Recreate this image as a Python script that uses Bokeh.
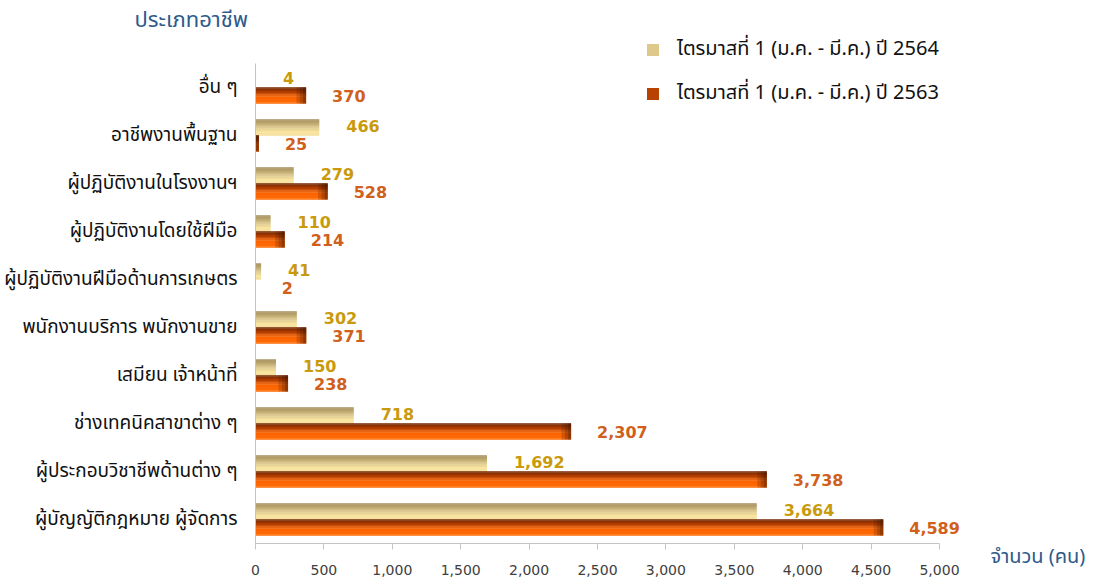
from bokeh.plotting import figure
from bokeh.models import (ColumnDataSource, Range1d, Label, Legend, LegendItem,
                          NumeralTickFormatter, FixedTicker)
from bokeh.transform import dodge
from bokeh.core.properties import value
from bokeh.embed import file_html
from bokeh.resources import INLINE

# ---------------- data ----------------
categories = [
    "อื่น ๆ",
    "อาชีพงานพื้นฐาน",
    "ผู้ปฏิบัติงานในโรงงานฯ",
    "ผู้ปฏิบัติงานโดยใช้ฝีมือ",
    "ผู้ปฏิบัติงานฝีมือด้านการเกษตร",
    "พนักงานบริการ พนักงานขาย",
    "เสมียน เจ้าหน้าที่",
    "ช่างเทคนิคสาขาต่าง ๆ",
    "ผู้ประกอบวิชาชีพด้านต่าง ๆ",
    "ผู้บัญญัติกฎหมาย ผู้จัดการ",
]
q1_2564 = [4, 466, 279, 110, 41, 302, 150, 718, 1692, 3664]
q1_2563 = [370, 25, 528, 214, 2, 371, 238, 2307, 3738, 4589]
series_names = ["ไตรมาสที่ 1 (ม.ค. - มี.ค.) ปี 2564",
                "ไตรมาสที่ 1 (ม.ค. - มี.ค.) ปี 2563"]
x_ticks = [0, 500, 1000, 1500, 2000, 2500, 3000, 3500, 4000, 4500, 5000]
x_max = 5000
title_text = "ประเภทอาชีพ"
x_title = "จำนวน (คน)"

# ---------------- layout (canvas pixels) ----------------
W, H = 1104, 580
PLOT_LEFT, PLOT_RIGHT = 255, 939      # x = 0 .. x_max
PLOT_TOP, PLOT_BOTTOM = 63, 543       # category band
n = len(categories)
px_x = (PLOT_RIGHT - PLOT_LEFT) / x_max
px_y = (PLOT_BOTTOM - PLOT_TOP) / n
x_range = Range1d(-PLOT_LEFT / px_x, x_max + (W - PLOT_RIGHT) / px_x)
y_range = Range1d(-0.5 - (H - PLOT_BOTTOM) / px_y, n - 0.5 + PLOT_TOP / px_y)

# ---------------- styling ----------------
THAI = "Tahoma, 'Noto Sans Thai', 'Noto Sans', sans-serif"
NUM = "'DejaVu Sans', Verdana, sans-serif"
BLUE = "#2e5b8a"
GOLD_TXT = "#c99a0c"
ORANGE_TXT = "#d0601c"


def hex2rgb(h):
    h = h.lstrip("#")
    return [int(h[i:i + 2], 16) for i in (0, 2, 4)]


def grad(stops, t):
    for (t0, c0), (t1, c1) in zip(stops, stops[1:]):
        if t <= t1:
            f = 0 if t1 == t0 else (t - t0) / (t1 - t0)
            a, b = hex2rgb(c0), hex2rgb(c1)
            return "#%02x%02x%02x" % tuple(round(a[i] + (b[i] - a[i]) * f) for i in range(3))
    return stops[-1][1]


gold_stops = [(0.0, "#a08b5a"), (0.35, "#c9b47a"), (0.8, "#fbe7a2"), (1.0, "#f3dc96")]
orange_stops = [(0.0, "#6c2400"), (0.3, "#b33f00"), (0.6, "#fb6300"), (1.0, "#ff6b05")]

ypos = list(range(n))[::-1]          # first category at the top
src = ColumnDataSource(dict(
    y=ypos,
    a=q1_2564,
    b=q1_2563,
    la=[f"{v:,}" for v in q1_2564],
    lb=[f"{v:,}" for v in q1_2563],
))

p = figure(width=W, height=H, x_range=x_range, y_range=y_range,
           output_backend="svg", toolbar_location=None,
           min_border=0, min_border_left=0, min_border_right=0,
           min_border_top=0, min_border_bottom=0)
p.outline_line_color = None
p.xgrid.grid_line_color = None
p.ygrid.grid_line_color = None
p.background_fill_color = "white"
p.border_fill_color = "white"

BAR = 1 / 3.0
N = 14
strip = BAR / N
renderers = {}
for field, stops, base in [("a", gold_stops, 0.0), ("b", orange_stops, -BAR)]:
    rs = []
    for k in range(N):
        t = (k + 0.5) / N  # 0 = top, 1 = bottom
        center = base + BAR - (k + 0.5) * strip
        r = p.hbar(y=dodge("y", center), left=0, right=field,
                   height=strip * 1.35, source=src,
                   fill_color=grad(stops, t), line_color=None)
        rs.append(r)
    renderers[field] = rs

# darker right end of the orange bars (kept inside each bar)
for w, a in [(70, 0.2), (45, 0.22), (22, 0.28)]:
    shade = ColumnDataSource(dict(y=ypos, b=q1_2563,
                                  l=[max(0, v - w) for v in q1_2563]))
    p.hbar(y=dodge("y", -BAR / 2), left="l", right="b", height=BAR, source=shade,
           fill_color="#3a1000", fill_alpha=a, line_color=None)

# value labels
p.text(x="a", y=dodge("y", BAR / 2 + 0.03), text="la", source=src,
       x_offset=27, text_baseline="middle", text_align="left",
       text_font=value(NUM), text_font_style="bold", text_font_size="16px",
       text_color=GOLD_TXT)
p.text(x="b", y=dodge("y", -BAR / 2), text="lb", source=src,
       x_offset=26, text_baseline="middle", text_align="left",
       text_font=value(NUM), text_font_style="bold", text_font_size="16px",
       text_color=ORANGE_TXT)

# axes (drawn at fixed data locations inside the frame)
ya = p.yaxis[0]
ya.fixed_location = 0
ya.bounds = (-0.5, n - 0.5)
ya.ticker = FixedTicker(ticks=ypos)
ya.major_label_overrides = {y: c for y, c in zip(ypos, categories)}
ya.major_tick_line_color = None
ya.minor_tick_line_color = None
ya.axis_line_color = "#c4c4c4"
ya.major_label_standoff = 12
ya.major_label_text_font = THAI
ya.major_label_text_font_size = "19px"
ya.major_label_text_color = "#111111"

xa = p.xaxis[0]
xa.fixed_location = -0.5
xa.bounds = (0, x_max)
xa.ticker = FixedTicker(ticks=x_ticks)
xa.formatter = NumeralTickFormatter(format="0,0")
xa.major_tick_in = 0
xa.major_tick_out = 6
xa.minor_tick_line_color = None
xa.major_tick_line_color = "#c4c4c4"
xa.axis_line_color = "#c4c4c4"
xa.major_label_standoff = 15
xa.major_label_text_font = NUM
xa.major_label_text_font_size = "14px"
xa.major_label_text_color = "#404040"

# legend
legend = Legend(items=[LegendItem(label=series_names[0], renderers=[renderers["a"][N // 2]]),
                       LegendItem(label=series_names[1], renderers=[renderers["b"][N // 3]])],
                location=(645, H - 108), orientation="vertical",
                glyph_width=15, glyph_height=15, label_height=22, spacing=14,
                label_standoff=17, padding=0, margin=0,
                border_line_color=None, background_fill_alpha=0,
                label_text_font=THAI, label_text_font_size="20px",
                label_text_color="#111111")
p.add_layout(legend)

p.add_layout(Label(x=134, y=H - 20, x_units="screen", y_units="screen", text=title_text,
                   text_font=THAI, text_font_size="22px", text_color=BLUE,
                   text_baseline="middle"))
p.add_layout(Label(x=990, y=H - 556, x_units="screen", y_units="screen", text=x_title,
                   text_font=THAI, text_font_size="20px", text_color=BLUE,
                   text_baseline="middle"))

open("out.html", "w").write(file_html(p, INLINE))
